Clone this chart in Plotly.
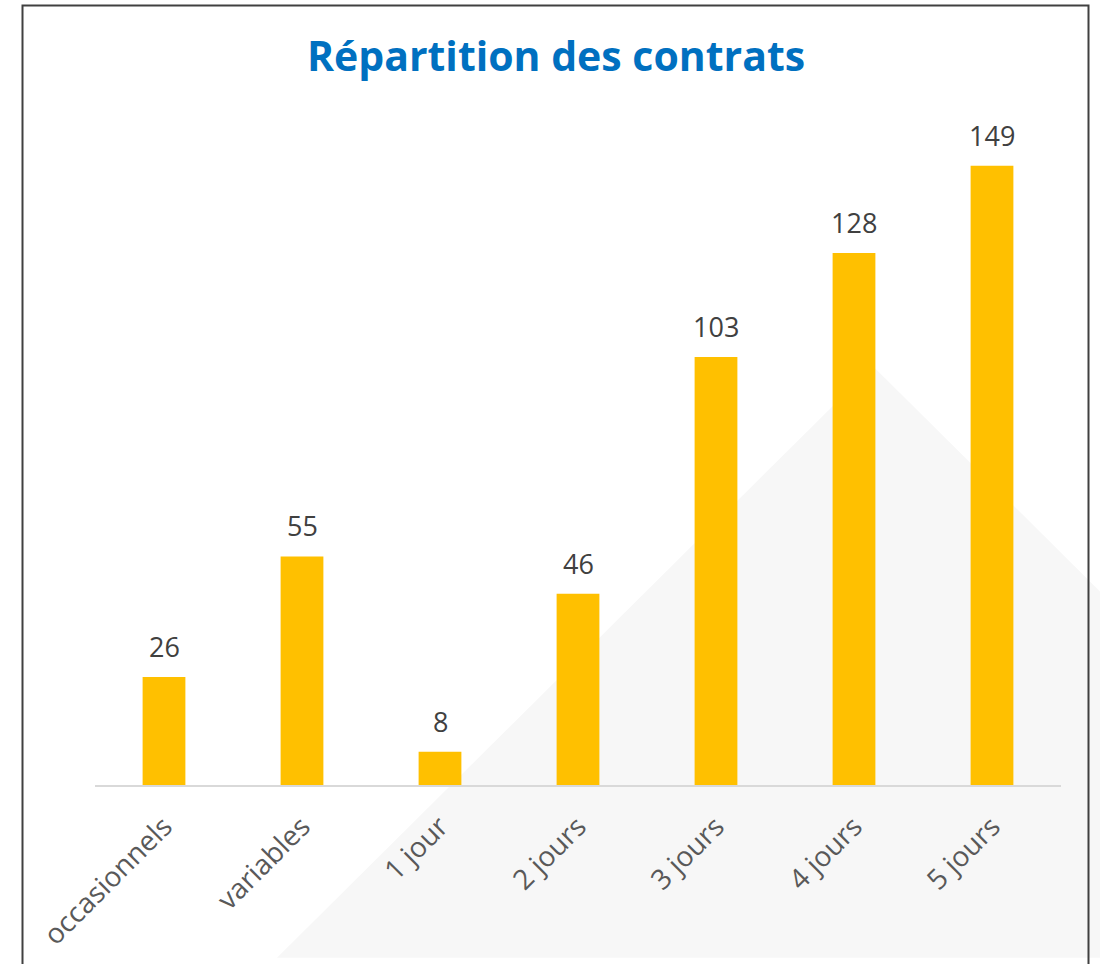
import plotly.graph_objects as go

categories = ["occasionnels", "variables", "1 jour", "2 jours", "3 jours", "4 jours", "5 jours"]
values = [26, 55, 8, 46, 103, 128, 149]

W, H = 1100, 964
L, R, T, B = 95, 39, 130, 174
PW = W - L - R
PH = H - T - B
YMAX = 157.6


def px(x):
    return (x - L) / PW


def py(y):
    return (H - B - y) / PH


fig = go.Figure()
fig.add_trace(go.Bar(
    x=categories, y=values, width=0.31,
    marker=dict(color="#FFC000", line=dict(width=0)),
    hoverinfo="x+y", showlegend=False,
))

for c, v in zip(categories, values):
    fig.add_annotation(x=c, y=v, text=str(v), showarrow=False, yanchor="bottom",
                       yshift=10, font=dict(family="Open Sans", size=27, color="#404040"))

# background watermark triangle
fig.add_shape(type="path", xref="paper", yref="paper", layer="below",
              path=f"M {px(873)} {py(368)} L {px(277)} {py(964)} L {px(1469)} {py(964)} Z",
              fillcolor="#F7F7F7", line=dict(width=0))
# chart border
fig.add_shape(type="rect", xref="paper", yref="paper", layer="above",
              x0=px(22.5), x1=px(1088.5), y0=py(975), y1=py(4.5),
              line=dict(color="#404040", width=2), fillcolor="rgba(0,0,0,0)")

fig.update_layout(
    width=W, height=H,
    margin=dict(l=L, r=R, t=T, b=B),
    paper_bgcolor="white", plot_bgcolor="rgba(0,0,0,0)",
    title=dict(text="<b>Répartition des contrats</b>", xref="container", yref="container",
               x=0.5055, y=1 - 57 / H, xanchor="center", yanchor="middle",
               font=dict(family="Open Sans", size=41, color="#0070C0")),
    xaxis=dict(tickangle=-45, tickfont=dict(family="Open Sans", size=28, color="#595959"),
               showline=True, linecolor="#D9D9D9", linewidth=2, showgrid=False,
               ticks="", zeroline=False, ticklabelstandoff=12),
    yaxis=dict(visible=False, range=[0, YMAX], showgrid=False, zeroline=False),
    bargap=0.69,
)

fig.write_html("out.html", config={"displayModeBar": False},
               post_script="document.body.style.margin='0';")
